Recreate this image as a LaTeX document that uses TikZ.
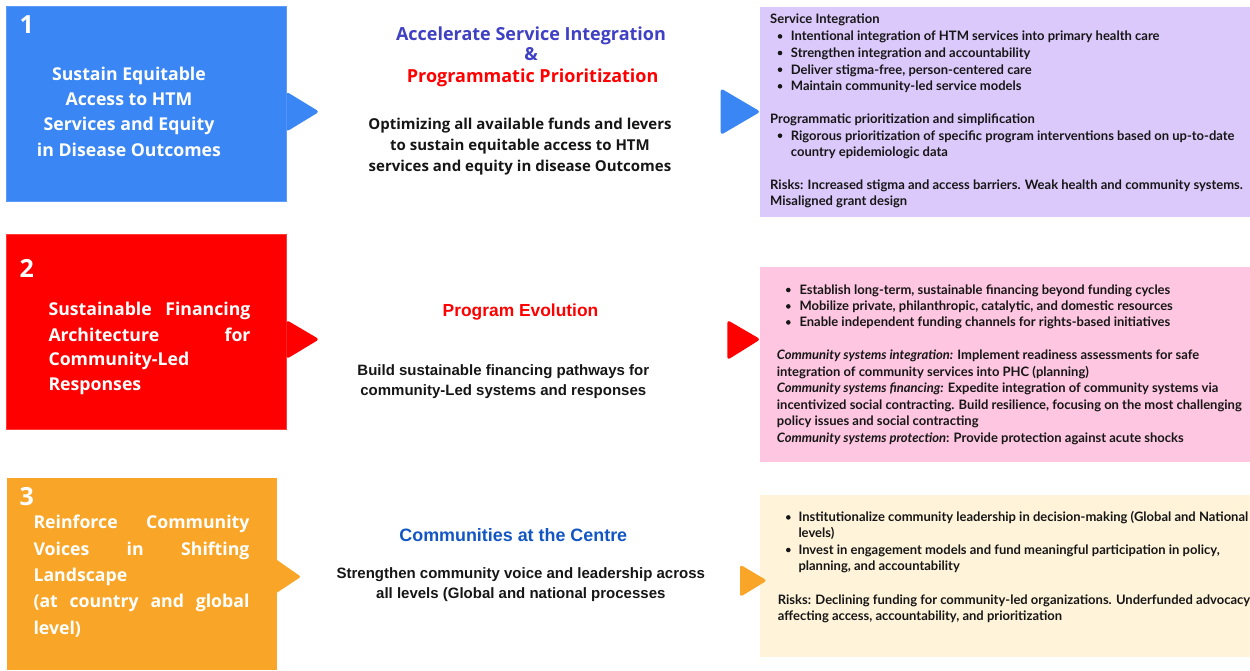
\documentclass[tikz,border=0pt]{standalone}
\usepackage{fontspec}
\setmainfont{Lato}
\newfontfamily\osfont{Open Sans}
\newfontfamily\arialfont{Liberation Sans}
\definecolor{cblue}{HTML}{3A86F5}
\definecolor{cblueedge}{HTML}{5C9BF7}
\definecolor{cred}{HTML}{FF0000}
\definecolor{credge}{HTML}{FF3A3A}
\definecolor{corange}{HTML}{F9A628}
\definecolor{cpurple}{HTML}{DCC9FB}
\definecolor{cpink}{HTML}{FEC6E0}
\definecolor{ccream}{HTML}{FFF3DA}
\definecolor{cindigo}{HTML}{4040C4}
\definecolor{ctblue}{HTML}{1256C4}
\definecolor{ink}{HTML}{161616}
\begin{document}
\begin{tikzpicture}[x=1pt,y=-1pt,
  panel/.style={anchor=north west, inner sep=0, outer sep=0, draw=none},
  num/.style={inner sep=0, anchor=base west, text=white, font=\osfont\fontsize{25}{28}\selectfont\bfseries},
  lt/.style={inner sep=0, text=white, font=\osfont\fontsize{17.7}{20}\selectfont\bfseries},
  mt/.style={inner sep=0, anchor=base, text=ink, font=\osfont\fontsize{15}{18}\selectfont\bfseries},
  mh/.style={inner sep=0, anchor=base, font=\osfont\fontsize{18}{20}\selectfont\bfseries},
  atx/.style={inner sep=0, anchor=base, text=ink, font=\arialfont\fontsize{15}{17}\selectfont\bfseries},
  ahx/.style={inner sep=0, anchor=base, font=\arialfont\fontsize{17.4}{20}\selectfont\bfseries},
  rt/.style={inner sep=0, anchor=base west, text=ink, font=\fontsize{13}{15}\selectfont\bfseries},
  bul/.style={circle, fill=ink, inner sep=0, minimum size=4.6pt},
  tri/.style={rounded corners=3pt}
]
\useasboundingbox (0,0) rectangle (1250,670);
\fill[white] (0,0) rectangle (1250,670);

% ---------- left boxes ----------
\node[panel, fill=cblue, draw=cblueedge, line width=0.8pt, minimum width=280pt, minimum height=195pt] (b1) at (6.7,6.7) {};
\node[panel, fill=cred, draw=credge, line width=0.8pt, minimum width=280pt, minimum height=194.7pt] (b2) at (6.7,234.3) {};
\node[panel, fill=corange, minimum width=270pt, minimum height=192pt] (b3) at (6.7,478.3) {};

\fill[cblue, tri] (286.5,91.7) -- (319.3,111.7) -- (286.5,131.7) -- cycle;
\fill[cred, tri] (286.5,320) -- (319.3,339.3) -- (286.5,359) -- cycle;
\fill[corange] (276,559.3) -- (299.5,575.7) [rounded corners=2pt] -- (301,576.7) [sharp corners] -- (299.5,577.7) -- (276,593.3) -- cycle;

\node[num] (n1) at (19.5,33.3) {1};
\node[num] (n2) at (19.5,277.7) {2};
\node[num] (n3) at (19.5,505) {3};

\node[lt, anchor=base] (t1a) at (129,80.7) {Sustain Equitable};
\node[lt, anchor=base] (t1b) at (129,105.5) {Access to HTM};
\node[lt, anchor=base] (t1c) at (129,130.7) {Services and Equity};
\node[lt, anchor=base] (t1d) at (129,156) {in Disease Outcomes};

\node[lt, anchor=base west] (t2a) at (48.3,315.7) {\makebox[202pt][s]{Sustainable Financing}};
\node[lt, anchor=base west] (t2b) at (48.3,341) {\makebox[202pt][s]{Architecture for}};
\node[lt, anchor=base west] (t2c) at (48.3,365.7) {Community-Led};
\node[lt, anchor=base west] (t2d) at (48.3,390.7) {Responses};

\node[lt, anchor=base west] (t3a) at (33.3,528.3) {\makebox[216pt][s]{Reinforce Community}};
\node[lt, anchor=base west] (t3b) at (33.3,555) {\makebox[216pt][s]{Voices in Shifting}};
\node[lt, anchor=base west] (t3c) at (33.3,581.7) {Landscape};
\node[lt, anchor=base west] (t3d) at (33.3,607.5) {\makebox[216pt][s]{(at country and global}};
\node[lt, anchor=base west] (t3e) at (33.3,634.5) {level)};

% ---------- middle ----------
\node[mh, text=cindigo] (h1a) at (531,40) {Accelerate Service Integration};
\node[mh, text=cindigo] (h1b) at (531,60.7) {\&};
\node[mh, text=cred] (h1c) at (532.7,82.7) {Programmatic Prioritization};
\node[mt] (p1a) at (520,129) {Optimizing all available funds and levers};
\node[mt] (p1b) at (520,150) {to sustain equitable access to HTM};
\node[mt] (p1c) at (520,171) {services and equity in disease Outcomes};

\node[ahx, text=cred] (h2) at (520.5,316.7) {Program Evolution};
\node[atx] (p2a) at (503.3,375) {Build sustainable financing pathways for};
\node[atx] (p2b) at (503.3,395) {community-Led systems and responses};

\node[ahx, text=ctblue, font=\arialfont\fontsize{17.9}{20}\selectfont\bfseries] (h3) at (513.3,541.7) {Communities at the Centre};
\node[atx] (p3a) at (520.8,578.3) {Strengthen community voice and leadership across};
\node[atx] (p3b) at (520.8,598.3) {all levels (Global and national processes};

% ---------- right boxes ----------
\node[panel, fill=cpurple, minimum width=490pt, minimum height=210.3pt] (r1) at (760,6.7) {};
\node[panel, fill=cpink, minimum width=490pt, minimum height=195pt] (r2) at (760,266.7) {};
\node[panel, fill=ccream, minimum width=490pt, minimum height=161.7pt] (r3) at (760,495) {};

\fill[cblue, tri] (720.7,88.3) -- (760.5,111.7) -- (720.7,135) -- cycle;
\fill[cred, tri] (727.3,320) -- (760.5,339.3) -- (727.3,360) -- cycle;
\fill[corange, tri] (740,564.5) -- (767,580.5) -- (740,597) -- cycle;

% purple content
\node[rt] (s1) at (770,23.5) {Service Integration};
\node[bul] (s1b1) at (780,36.4) {};
\node[rt] (s1l1) at (790.7,40.7) {Intentional integration of HTM services into primary health care};
\node[bul] (s1b2) at (780,53) {};
\node[rt] (s1l2) at (790.7,57.3) {Strengthen integration and accountability};
\node[bul] (s1b3) at (780,69.7) {};
\node[rt] (s1l3) at (790.7,74) {Deliver stigma-free, person-centered care};
\node[bul] (s1b4) at (780,86.3) {};
\node[rt] (s1l4) at (790.7,90.6) {Maintain community-led service models};
\node[rt] (s2) at (770,123.3) {Programmatic prioritization and simplification};
\node[bul] (s2b1) at (780,135.7) {};
\node[rt] (s2l1) at (790.7,140) {Rigorous prioritization of specific program interventions based on up-to-date};
\node[rt] (s2l2) at (790.7,156.6) {country epidemiologic data};
\node[rt] (s3a) at (770,189.3) {Risks: Increased stigma and access barriers. Weak health and community systems.};
\node[rt] (s3b) at (770,205.7) {Misaligned grant design};

% pink content
\node[bul] (k1b) at (788.3,290) {};
\node[rt] (k1) at (799.3,294.3) {Establish long-term, sustainable financing beyond funding cycles};
\node[bul] (k2b) at (788.3,306.4) {};
\node[rt] (k2) at (799.3,310.7) {Mobilize private, philanthropic, catalytic, and domestic resources};
\node[bul] (k3b) at (788.3,322.4) {};
\node[rt] (k3) at (799.3,326.7) {Enable independent funding channels for rights-based initiatives};
\node[rt] (k4) at (776.7,359.3) {\textit{Community systems integration:} Implement readiness assessments for safe};
\node[rt] (k5) at (776.7,376) {integration of community services into PHC (planning)};
\node[rt] (k6) at (776.7,392.7) {\textit{Community systems financing:} Expedite integration of community systems via};
\node[rt] (k7) at (776.7,409.3) {incentivized social contracting. Build resilience, focusing on the most challenging};
\node[rt] (k8) at (776.7,425.7) {policy issues and social contracting};
\node[rt] (k9) at (776.7,442) {\textit{Community systems protection}: Provide protection against acute shocks};

% cream content
\node[bul] (c1b) at (788.3,517.4) {};
\node[rt] (c1) at (798.3,521.7) {Institutionalize community leadership in decision-making (Global and National};
\node[rt] (c2) at (798.3,537.7) {levels)};
\node[bul] (c3b) at (788.3,550) {};
\node[rt] (c3) at (798.3,554.3) {Invest in engagement models and fund meaningful participation in policy,};
\node[rt] (c4) at (798.3,570.7) {planning, and accountability};
\node[rt] (c5) at (777.7,604) {Risks: Declining funding for community-led organizations. Underfunded advocacy};
\node[rt] (c6) at (777.7,620) {affecting access, accountability, and prioritization};
\end{tikzpicture}
\end{document}
